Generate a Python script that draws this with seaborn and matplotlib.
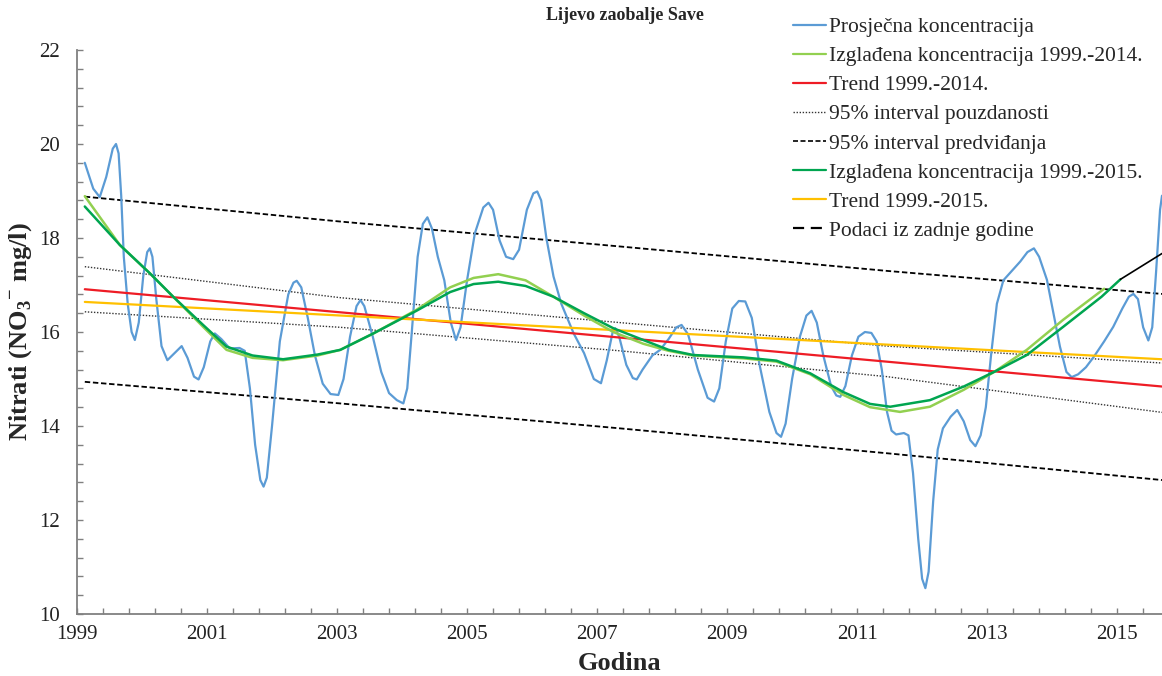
import numpy as np
import pandas as pd
import seaborn as sns
import matplotlib.pyplot as plt
from matplotlib.ticker import MultipleLocator
from matplotlib.lines import Line2D

# average concentration
avg_years = [1999.12, 1999.25, 1999.35, 1999.45, 1999.55, 1999.60, 1999.64, 1999.68, 1999.72, 1999.78,
             1999.84, 1999.89, 1999.95, 2000.02, 2000.08, 2000.12, 2000.16, 2000.22, 2000.30, 2000.39,
             2000.50, 2000.61, 2000.70, 2000.80, 2000.87, 2000.95, 2001.05, 2001.12, 2001.22, 2001.35,
             2001.50, 2001.58, 2001.66, 2001.74, 2001.82, 2001.87, 2001.92, 2002.00, 2002.12, 2002.25,
             2002.33, 2002.38, 2002.45, 2002.55, 2002.66, 2002.78, 2002.90, 2003.02, 2003.10, 2003.20,
             2003.30, 2003.36, 2003.42, 2003.55, 2003.68, 2003.80, 2003.92, 2004.02, 2004.08, 2004.15,
             2004.24, 2004.32, 2004.39, 2004.46, 2004.55, 2004.65, 2004.75, 2004.83, 2004.90, 2005.00,
             2005.12, 2005.25, 2005.33, 2005.40, 2005.50, 2005.60, 2005.71, 2005.80, 2005.92, 2006.02,
             2006.08, 2006.14, 2006.22, 2006.33, 2006.45, 2006.64, 2006.80, 2006.95, 2007.06, 2007.15,
             2007.24, 2007.28, 2007.34, 2007.45, 2007.55, 2007.61, 2007.70, 2007.85, 2007.97, 2008.10,
             2008.22, 2008.30, 2008.40, 2008.55, 2008.70, 2008.80, 2008.88, 2008.98, 2009.08, 2009.18,
             2009.28, 2009.38, 2009.50, 2009.65, 2009.76, 2009.83, 2009.90, 2010.00, 2010.12, 2010.22,
             2010.30, 2010.38, 2010.48, 2010.60, 2010.68, 2010.74, 2010.82, 2010.92, 2011.02, 2011.12,
             2011.22, 2011.30, 2011.38, 2011.46, 2011.53, 2011.60, 2011.72, 2011.79, 2011.86, 2011.94,
             2012.00, 2012.05, 2012.10, 2012.17, 2012.24, 2012.32, 2012.44, 2012.54, 2012.64, 2012.74,
             2012.82, 2012.90, 2012.98, 2013.06, 2013.15, 2013.25, 2013.38, 2013.51, 2013.62, 2013.72,
             2013.80, 2013.92, 2014.02, 2014.12, 2014.22, 2014.30, 2014.40, 2014.52, 2014.64, 2014.80,
             2014.94, 2015.08, 2015.18, 2015.25, 2015.32, 2015.40, 2015.48, 2015.54, 2015.60, 2015.66,
             2015.69]
avg_conc = [19.60, 19.05, 18.87, 19.30, 19.90, 20.00, 19.80, 18.90, 17.60, 16.60,
            16.00, 15.83, 16.20, 17.20, 17.70, 17.78, 17.60, 16.70, 15.70, 15.40,
            15.55, 15.70, 15.45, 15.05, 14.99, 15.25, 15.80, 15.97, 15.85, 15.65,
            15.66, 15.60, 14.80, 13.60, 12.85, 12.71, 12.90, 14.00, 15.80, 16.80,
            17.05, 17.09, 16.95, 16.30, 15.50, 14.90, 14.68, 14.66, 15.00, 15.90,
            16.55, 16.68, 16.55, 15.90, 15.15, 14.70, 14.55, 14.48, 14.80, 16.00,
            17.60, 18.30, 18.44, 18.20, 17.60, 17.10, 16.20, 15.83, 16.10, 17.10,
            18.10, 18.65, 18.75, 18.60, 17.95, 17.60, 17.55, 17.75, 18.60, 18.95,
            18.99, 18.80, 18.00, 17.18, 16.60, 15.97, 15.55, 15.00, 14.91, 15.40,
            16.00, 16.08, 15.90, 15.30, 15.02, 14.99, 15.20, 15.50, 15.62, 15.85,
            16.10, 16.15, 15.95, 15.20, 14.60, 14.52, 14.80, 15.80, 16.50, 16.66,
            16.65, 16.30, 15.30, 14.30, 13.85, 13.77, 14.05, 15.00, 15.90, 16.35,
            16.45, 16.20, 15.50, 14.85, 14.65, 14.62, 14.85, 15.50, 15.90, 16.00,
            15.98, 15.80, 15.20, 14.30, 13.90, 13.82, 13.85, 13.80, 13.00, 11.60,
            10.75, 10.55, 10.90, 12.40, 13.50, 13.95, 14.20, 14.34, 14.10, 13.70,
            13.57, 13.80, 14.40, 15.50, 16.60, 17.10, 17.30, 17.50, 17.70, 17.78,
            17.60, 17.11, 16.40, 15.69, 15.15, 15.04, 15.10, 15.25, 15.47, 15.80,
            16.11, 16.50, 16.75, 16.81, 16.70, 16.10, 15.82, 16.10, 17.30, 18.60,
            18.90]

# smoothed concentration 1999-2014
sm14_years = [1999.12, 1999.66, 2000.12, 2000.48, 2000.94, 2001.30, 2001.70, 2002.17, 2002.70, 2003.05,
              2003.56, 2004.22, 2004.74, 2005.10, 2005.48, 2005.90, 2006.33, 2006.80, 2007.25, 2007.71,
              2008.10, 2008.48, 2009.25, 2009.76, 2010.28, 2010.79, 2011.20, 2011.66, 2012.12, 2012.64,
              2013.12, 2013.61, 2014.17, 2014.80]
sm14_conc = [18.89, 17.85, 17.25, 16.75, 16.11, 15.62, 15.45, 15.40, 15.50, 15.62,
             15.97, 16.47, 16.95, 17.15, 17.23, 17.10, 16.75, 16.35, 16.00, 15.75,
             15.60, 15.50, 15.44, 15.37, 15.10, 14.66, 14.40, 14.30, 14.41, 14.77,
             15.16, 15.62, 16.26, 16.92]

# smoothed concentration 1999-2015
sm15_years = [1999.12, 1999.66, 2000.12, 2000.48, 2000.94, 2001.30, 2001.70, 2002.17, 2002.70, 2003.05,
              2003.56, 2004.22, 2004.74, 2005.10, 2005.48, 2005.90, 2006.33, 2006.80, 2007.25, 2007.71,
              2008.10, 2008.48, 2009.25, 2009.76, 2010.28, 2010.79, 2011.20, 2011.51, 2012.12, 2012.64,
              2013.12, 2013.61, 2014.17, 2014.76, 2015.05]
sm15_conc = [18.67, 17.85, 17.25, 16.75, 16.15, 15.69, 15.50, 15.42, 15.52, 15.62,
             15.97, 16.45, 16.85, 17.02, 17.07, 16.98, 16.75, 16.40, 16.08, 15.83,
             15.62, 15.51, 15.46, 15.39, 15.12, 14.72, 14.47, 14.41, 14.55, 14.84,
             15.16, 15.51, 16.11, 16.75, 17.12]

# last year of data
last_years = [2015.05, 2015.69]
last_conc = [17.12, 17.67]

# trends
trend14_years = [1999.12, 2015.69]
trend14_conc = [16.91, 14.84]
trend15_years = [1999.12, 2015.69]
trend15_conc = [16.64, 15.42]

# 95% confidence / prediction bands
band_years = [1999.12, 2003.05, 2007.35, 2011.46, 2015.69]
conf_upper = [17.39, 16.73, 16.20, 15.70, 15.34]
conf_lower = [16.43, 16.10, 15.60, 15.05, 14.29]
pred_upper = [18.88, 18.35, 17.82, 17.30, 16.81]
pred_lower = [14.94, 14.48, 13.95, 13.42, 12.85]

labels = ["Prosječna koncentracija", "Izglađena koncentracija 1999.-2014.", "Trend 1999.-2014.",
          "95% interval pouzdanosti", "95% interval predviđanja", "Izglađena koncentracija 1999.-2015.",
          "Trend 1999.-2015.", "Podaci iz zadnje godine"]

BLUE = "#5B9BD5"
LGREEN = "#92D050"
RED = "#EE1C25"
DGREEN = "#00A550"
YELLOW = "#FFC000"

sns.set_theme(style="ticks")
plt.rcParams['font.family'] = ['Liberation Serif', 'DejaVu Serif']
plt.rcParams['mathtext.fontset'] = 'custom'
plt.rcParams['mathtext.rm'] = 'Liberation Serif:bold'
plt.rcParams['mathtext.bf'] = 'Liberation Serif:bold'
plt.rcParams['xtick.direction'] = 'in'
plt.rcParams['ytick.direction'] = 'in'

fig = plt.figure(figsize=(11.62, 6.76), dpi=100)
ax = fig.add_axes([77 / 1162, 62 / 676, 1 - 77 / 1162, 564 / 676])

kw = dict(ax=ax, sort=False, estimator=None)
sns.lineplot(x=band_years, y=pred_upper, color="black", lw=1.3, **kw)
ax.lines[-1].set_linestyle((0, (3, 1.5)))
sns.lineplot(x=band_years, y=pred_lower, color="black", lw=1.3, **kw)
ax.lines[-1].set_linestyle((0, (3, 1.5)))
sns.lineplot(x=band_years, y=conf_upper, color="#333333", lw=1.0, **kw)
ax.lines[-1].set_linestyle((0, (1, 1.2)))
sns.lineplot(x=band_years, y=conf_lower, color="#333333", lw=1.0, **kw)
ax.lines[-1].set_linestyle((0, (1, 1.2)))
sns.lineplot(x=avg_years, y=avg_conc, color=BLUE, lw=1.6, **kw)
sns.lineplot(x=trend14_years, y=trend14_conc, color=RED, lw=1.6, **kw)
sns.lineplot(x=trend15_years, y=trend15_conc, color=YELLOW, lw=1.6, **kw)
sns.lineplot(x=sm14_years, y=sm14_conc, color=LGREEN, lw=1.8, **kw)
sns.lineplot(x=sm15_years, y=sm15_conc, color=DGREEN, lw=1.8, **kw)
sns.lineplot(x=last_years, y=last_conc, color="black", lw=1.2, **kw)

ax.set_xlim(1999, 2015.69)
ax.set_ylim(10, 22)
ax.xaxis.set_major_locator(MultipleLocator(2, offset=1))
ax.xaxis.set_minor_locator(MultipleLocator(0.4, offset=0.2))
ax.yaxis.set_major_locator(MultipleLocator(2))
ax.yaxis.set_minor_locator(MultipleLocator(0.4))
ax.xaxis.set_major_formatter(lambda v, pos: f"{v:.0f}")
ax.tick_params(which="both", direction="in", length=4, width=1, color="#808080",
               labelsize=15, labelcolor="#222222")
ax.tick_params(axis="x", which="major", pad=8)
ax.tick_params(axis="y", which="major", pad=12)
for s in ["top", "right"]:
    ax.spines[s].set_visible(False)
for s in ["left", "bottom"]:
    ax.spines[s].set_color("#808080")
    ax.spines[s].set_linewidth(1.3)

ax.set_xlabel("Godina", fontsize=19, fontweight="bold", labelpad=6)
ax.set_ylabel(r"Nitrati (NO$_{3}$$^{-}$ mg/l)", fontsize=19, fontweight="bold", labelpad=4)
fig.text(625 / 1162, 1 - 15 / 676, "Lijevo zaobalje Save", ha="center", va="center",
         fontsize=13, fontweight="bold")

handles = [
    Line2D([], [], color=BLUE, lw=1.6),
    Line2D([], [], color=LGREEN, lw=1.6),
    Line2D([], [], color=RED, lw=1.6),
    Line2D([], [], color="#333333", lw=1.0, ls=(0, (1, 1.2))),
    Line2D([], [], color="black", lw=1.2, ls=(0, (3, 1.5))),
    Line2D([], [], color=DGREEN, lw=1.6),
    Line2D([], [], color=YELLOW, lw=1.6),
    Line2D([], [], color="black", lw=1.6, ls=(0, (5, 3))),
]
fig.legend(handles, labels, loc="upper left", bbox_to_anchor=(793 / 1162, 1 - 17 / 676),
           frameon=False, fontsize=15.5, handlelength=1.55, handletextpad=0.1,
           labelspacing=0.42, borderaxespad=0, borderpad=0)

fig.savefig("out.png", dpi=100)
